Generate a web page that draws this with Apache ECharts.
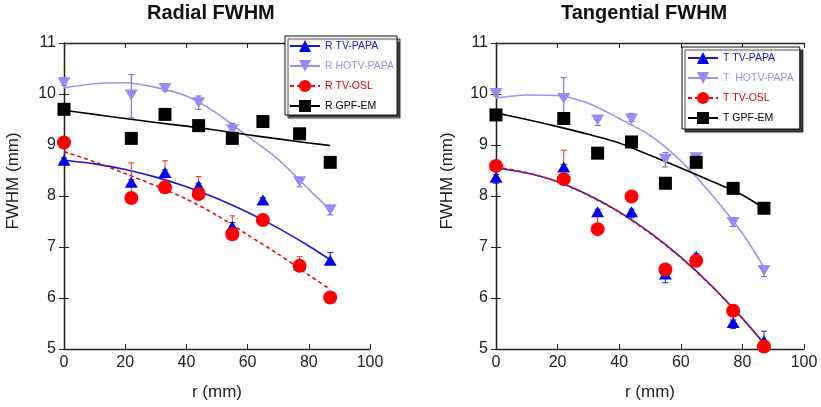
<!DOCTYPE html>
<html><head><meta charset="utf-8">
<script src="https://cdn.jsdelivr.net/npm/echarts@6/dist/echarts.min.js"></script>
<style>html,body{margin:0;padding:0;background:#fff}#c{width:821px;height:407px}</style>
</head><body><div id="c"></div>
<script>
// ---------- data ----------
const ptX = [0, 22, 33, 44, 55, 65, 77, 87];
const fitX = [0, 10, 20, 30, 40, 50, 60, 70, 80, 87];
const xTicks = [0, 20, 40, 60, 80, 100];
const yTicks = [5, 6, 7, 8, 9, 10, 11];

// Radial
const rTvPapa = [8.70, 8.27, 8.46, 8.20, 7.40, 7.92, 6.65, 6.74];
const rTvPapaUp = [0.05, 0.05, 0.05, 0.05, 0.08, 0.05, 0.05, 0.15];
const rTvPapaDn = [0.05, 0.05, 0.05, 0.05, 0.05, 0.05, 0.05, 0.05];
const rHotv = [10.22, 9.98, 10.11, 9.83, 9.30, 9.45, 8.28, 7.73];
const rHotvUp = [0.10, 0.40, 0.05, 0.13, 0.12, 0.05, 0.05, 0.08];
const rHotvDn = [0.05, 0.45, 0.05, 0.13, 0.05, 0.05, 0.10, 0.10];
const rOsl = [9.05, 7.96, 8.17, 8.04, 7.25, 7.53, 6.63, 6.01];
const rOslUp = [0.05, 0.69, 0.52, 0.34, 0.36, 0.05, 0.18, 0.05];
const rOslDn = [0.03, 0.03, 0.03, 0.03, 0.03, 0.03, 0.03, 0.03];
const rGpf = [9.70, 9.13, 9.60, 9.38, 9.13, 9.46, 9.22, 8.66];
const rGpfUp = [0, 0, 0, 0, 0, 0, 0, 0];
const rGpfDn = [0, 0, 0, 0, 0, 0, 0, 0];
const rTvPapaFit = [8.70, 8.63, 8.52, 8.37, 8.18, 7.95, 7.68, 7.37, 7.02, 6.75];
const rHotvFit = [10.12, 10.20, 10.22, 10.13, 9.96, 9.62, 9.17, 8.72, 8.13, 7.73];
const rOslFit = [8.87, 8.67, 8.44, 8.20, 7.94, 7.62, 7.24, 6.86, 6.45, 6.17];
const rGpfFit = [9.68, 9.60, 9.52, 9.44, 9.37, 9.29, 9.20, 9.12, 9.04, 8.99];

// Tangential
const tTvPapa = [8.37, 8.57, 7.69, 7.69, 6.47, 6.82, 5.52, 5.16];
const tTvPapaUp = [0.05, 0.05, 0.05, 0.05, 0.05, 0.05, 0.05, 0.19];
const tTvPapaDn = [0.12, 0.05, 0.05, 0.12, 0.17, 0.05, 0.12, 0.05];
const tHotv = [10.01, 9.91, 9.49, 9.51, 8.72, 8.75, 7.48, 6.54];
const tHotvUp = [0.05, 0.41, 0.05, 0.11, 0.13, 0.05, 0.05, 0.05];
const tHotvDn = [0.05, 0.30, 0.11, 0.05, 0.15, 0.05, 0.08, 0.12];
const tOsl = [8.59, 8.33, 7.35, 7.99, 6.56, 6.73, 5.75, 5.05];
const tOslUp = [0.05, 0.57, 0.25, 0.05, 0.05, 0.05, 0.05, 0.05];
const tOslDn = [0.03, 0.03, 0.03, 0.03, 0.03, 0.03, 0.03, 0.03];
const tGpf = [9.59, 9.52, 8.84, 9.06, 8.25, 8.66, 8.15, 7.76];
const tGpfUp = [0, 0, 0, 0, 0, 0, 0, 0];
const tGpfDn = [0, 0, 0, 0, 0, 0, 0, 0];
const tTvPapaFit = [8.55, 8.45, 8.28, 8.02, 7.69, 7.28, 6.80, 6.24, 5.60, 5.11];
const tOslFit = [8.57, 8.46, 8.28, 8.01, 7.68, 7.27, 6.79, 6.23, 5.60, 5.10];
const tHotvFit = [9.92, 9.98, 9.97, 9.82, 9.52, 9.19, 8.69, 8.03, 7.27, 6.60];
const tGpfFit = [9.63, 9.50, 9.36, 9.21, 9.04, 8.80, 8.55, 8.29, 8.02, 7.76];

const rNames = ['R TV-PAPA', 'R HOTV-PAPA', 'R TV-OSL', 'R GPF-EM'];
const tNames = ['T TV-PAPA', 'T  HOTV-PAPA', 'T TV-OSL', 'T GPF-EM'];

// ---------- styles ----------
const FONT = '"Liberation Sans", Arial, Helvetica, sans-serif';
const C = {
  blue: '#0000f0', blueLine: '#1a1ac8', blueText: '#1a1ad0',
  purple: '#9d88f5', purpleLine: '#a391f0', purpleText: '#a090f0',
  red: '#ff0000', redLine: '#e81010', redText: '#e00000',
  black: '#000000'
};
const downTri = 'path://M0,0 L10,0 L5,9 Z';
const sty = [
  {mark: C.blue, line: C.blueLine, text: C.blueText, sym: 'triangle', size: [13, 11], dash: 'solid', err: '#2020e0'},
  {mark: C.purple, line: C.purpleLine, text: C.purpleText, sym: downTri, size: [13, 11], dash: 'solid', err: '#6a5ad8'},
  {mark: C.red, line: C.redLine, text: C.redText, sym: 'circle', size: 14, dash: [4, 3], err: '#e03030'},
  {mark: C.black, line: C.black, text: C.black, sym: 'rect', size: 13, dash: 'solid', err: '#000'}
];

const zip = (xs, ys) => xs.map((x, i) => [x, ys[i]]);
const zip4 = (xs, ys, us, ds) => xs.map((x, i) => [x, ys[i], us[i], ds[i]]);

function errSeries(gi, data, color) {
  return {
    type: 'custom', xAxisIndex: gi * 2, yAxisIndex: gi * 2, z: 3,
    data: data, silent: true,
    encode: {x: 0, y: [1]},
    renderItem: function (params, api) {
      const x = api.value(0), y = api.value(1), u = api.value(2), d = api.value(3);
      if (u <= 0 && d <= 0) return null;
      const t = api.coord([x, y + u]), b = api.coord([x, y - d]);
      const w = 3;
      const ls = {stroke: color, lineWidth: 1};
      return {type: 'group', children: [
        {type: 'line', shape: {x1: t[0], y1: t[1], x2: b[0], y2: b[1]}, style: ls},
        {type: 'line', shape: {x1: t[0] - w, y1: t[1], x2: t[0] + w, y2: t[1]}, style: ls},
        {type: 'line', shape: {x1: b[0] - w, y1: b[1], x2: b[0] + w, y2: b[1]}, style: ls}
      ]};
    }
  };
}

function panelSeries(gi, names, pts, ups, dns, fits) {
  const out = [];
  names.forEach((n, k) => {
    const s = sty[k];
    out.push({
      type: 'line', name: n, xAxisIndex: gi * 2, yAxisIndex: gi * 2, data: [],
      symbol: s.sym, symbolSize: s.size,
      itemStyle: {color: s.mark},
      lineStyle: {color: s.line, width: 1.5, type: s.dash}
    });
  });
  fits.forEach((f, k) => {
    const s = sty[k];
    out.push({
      type: 'line', xAxisIndex: gi * 2, yAxisIndex: gi * 2, z: 2 + k * 0.01,
      data: zip(fitX, f), showSymbol: false, symbol: 'none', smooth: 0.25, silent: true,
      lineStyle: {color: s.line, width: 1.6, type: s.dash}
    });
  });
  pts.forEach((p, k) => {
    out.push(errSeries(gi, zip4(ptX, p, ups[k], dns[k]), sty[k].err));
  });
  pts.forEach((p, k) => {
    const s = sty[k];
    out.push({
      type: 'scatter', xAxisIndex: gi * 2, yAxisIndex: gi * 2, z: 4 + k * 0.01,
      data: zip(ptX, p), symbol: s.sym, symbolSize: s.size, silent: true,
      itemStyle: {color: s.mark, opacity: 1}
    });
  });
  return out;
}

const axisLineStyle = {show: true, lineStyle: {color: '#222', width: 1.3}};
const tickStyle = {show: true, inside: true, length: 5, lineStyle: {color: '#222', width: 1}};
function xAxes(gi) {
  return [
    {type: 'value', gridIndex: gi, position: 'bottom', min: xTicks[0], max: xTicks[xTicks.length - 1], interval: 20,
     axisLine: axisLineStyle, axisTick: tickStyle, splitLine: {show: false},
     axisLabel: {color: '#222', fontSize: 16, fontFamily: FONT, margin: 6}},
    {type: 'value', gridIndex: gi, position: 'top', min: xTicks[0], max: xTicks[xTicks.length - 1], interval: 20,
     axisLine: axisLineStyle, axisTick: tickStyle, splitLine: {show: false}, axisLabel: {show: false}}
  ];
}
function yAxes(gi) {
  return [
    {type: 'value', gridIndex: gi, position: 'left', min: yTicks[0], max: yTicks[yTicks.length - 1], interval: 1,
     axisLine: axisLineStyle, axisTick: tickStyle, splitLine: {show: false},
     axisLabel: {color: '#222', fontSize: 16, fontFamily: FONT, margin: 8}},
    {type: 'value', gridIndex: gi, position: 'right', min: yTicks[0], max: yTicks[yTicks.length - 1], interval: 1,
     axisLine: axisLineStyle, axisTick: tickStyle, splitLine: {show: false}, axisLabel: {show: false}}
  ];
}

function legendFor(names, box) {
  return Object.assign({
    orient: 'vertical', itemWidth: 30, itemHeight: 15, itemGap: 8,
    backgroundColor: '#fff', borderColor: '#111', borderWidth: 1,
    shadowColor: 'rgba(40,40,40,0.9)', shadowBlur: 1, shadowOffsetX: 3, shadowOffsetY: 3,
    textStyle: {fontSize: 10.5, fontFamily: FONT},
    selectedMode: false,
    data: names.map((n, k) => ({name: n, textStyle: {color: sty[k].text}}))
  }, box);
}

const option = {
  animation: false,
  backgroundColor: '#fff',
  grid: [
    {left: 64, top: 43, width: 306, height: 306},
    {left: 496, top: 43, width: 308, height: 306}
  ],
  xAxis: xAxes(0).concat(xAxes(1)),
  yAxis: yAxes(0).concat(yAxes(1)),
  legend: [
    legendFor(rNames, {left: 285, top: 36, padding: [4, 3, 3, 4]}),
    legendFor(tNames, {left: 682, top: 47, padding: [5, 6, 5, 5]})
  ],
  graphic: [
    {type: 'text', left: 147, top: 3, style: {text: 'Radial FWHM', font: 'bold 20px ' + FONT, fill: '#111'}},
    {type: 'text', left: 561, top: 3, style: {text: 'Tangential FWHM', font: 'bold 20px ' + FONT, fill: '#111'}},
    {type: 'text', x: 13, y: 181, rotation: Math.PI / 2, style: {text: 'FWHM (mm)', font: '17px ' + FONT, fill: '#222', align: 'center', verticalAlign: 'middle'}},
    {type: 'text', x: 447, y: 181, rotation: Math.PI / 2, style: {text: 'FWHM (mm)', font: '17px ' + FONT, fill: '#222', align: 'center', verticalAlign: 'middle'}},
    {type: 'text', x: 217, y: 392, style: {text: 'r (mm)', font: '17px ' + FONT, fill: '#222', align: 'center', verticalAlign: 'middle'}},
    {type: 'text', x: 650, y: 392, style: {text: 'r (mm)', font: '17px ' + FONT, fill: '#222', align: 'center', verticalAlign: 'middle'}}
  ],
  series: panelSeries(0, rNames,
      [rTvPapa, rHotv, rOsl, rGpf], [rTvPapaUp, rHotvUp, rOslUp, rGpfUp], [rTvPapaDn, rHotvDn, rOslDn, rGpfDn],
      [rTvPapaFit, rHotvFit, rOslFit, rGpfFit])
    .concat(panelSeries(1, tNames,
      [tTvPapa, tHotv, tOsl, tGpf], [tTvPapaUp, tHotvUp, tOslUp, tGpfUp], [tTvPapaDn, tHotvDn, tOslDn, tGpfDn],
      [tTvPapaFit, tHotvFit, tOslFit, tGpfFit]))
};

const chart = echarts.init(document.getElementById('c'), null, {renderer: 'canvas'});
chart.setOption(option);
</script>
</body></html>
